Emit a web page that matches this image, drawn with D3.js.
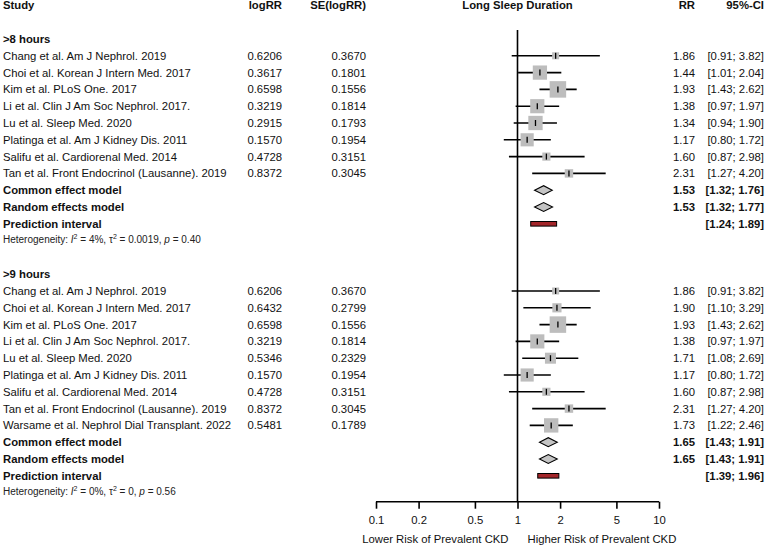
<!DOCTYPE html>
<html><head><meta charset="utf-8">
<script src="https://cdn.jsdelivr.net/npm/d3@7"></script>
<style>
body{margin:0;background:#fff;}
svg{display:block;font-family:"Liberation Sans",Arial,Helvetica,sans-serif;}
</style></head>
<body>
<svg id="chart" width="766" height="547"></svg>
<script>
// ---------- DATA ----------
const group8Studies = ["Chang et al. Am J Nephrol. 2019","Choi et al. Korean J Intern Med. 2017","Kim et al. PLoS One. 2017","Li et al. Clin J Am Soc Nephrol. 2017.","Lu et al. Sleep Med. 2020","Platinga et al. Am J Kidney Dis. 2011","Salifu et al. Cardiorenal Med. 2014","Tan et al. Front Endocrinol (Lausanne). 2019"];
const group8LogRR = ["0.6206","0.3617","0.6598","0.3219","0.2915","0.1570","0.4728","0.8372"];
const group8SE = ["0.3670","0.1801","0.1556","0.1814","0.1793","0.1954","0.3151","0.3045"];
const group8RR = [1.86,1.44,1.93,1.38,1.34,1.17,1.60,2.31];
const group8Lo = [0.91,1.01,1.43,0.97,0.94,0.80,0.87,1.27];
const group8Hi = [3.82,2.04,2.62,1.97,1.90,1.72,2.98,4.20];
const group8Common = [1.53,1.32,1.76];
const group8Random = [1.53,1.32,1.77];
const group8Pred = [1.24,1.89];
const group8Het = {I2:"4%", tau2:"0.0019", p:"0.40"};

const group9Studies = ["Chang et al. Am J Nephrol. 2019","Choi et al. Korean J Intern Med. 2017","Kim et al. PLoS One. 2017","Li et al. Clin J Am Soc Nephrol. 2017.","Lu et al. Sleep Med. 2020","Platinga et al. Am J Kidney Dis. 2011","Salifu et al. Cardiorenal Med. 2014","Tan et al. Front Endocrinol (Lausanne). 2019","Warsame et al. Nephrol Dial Transplant. 2022"];
const group9LogRR = ["0.6206","0.6432","0.6598","0.3219","0.5346","0.1570","0.4728","0.8372","0.5481"];
const group9SE = ["0.3670","0.2799","0.1556","0.1814","0.2329","0.1954","0.3151","0.3045","0.1789"];
const group9RR = [1.86,1.90,1.93,1.38,1.71,1.17,1.60,2.31,1.73];
const group9Lo = [0.91,1.10,1.43,0.97,1.08,0.80,0.87,1.27,1.22];
const group9Hi = [3.82,3.29,2.62,1.97,2.69,1.72,2.98,4.20,2.46];
const group9Common = [1.65,1.43,1.91];
const group9Random = [1.65,1.43,1.91];
const group9Pred = [1.39,1.96];
const group9Het = {I2:"0%", tau2:"0", p:"0.56"};

const axisTicks = [0.1,0.2,0.5,1,2,5,10];
const headers = ["Study","logRR","SE(logRR)","Long Sleep Duration","RR","95%-CI"];
const groupLabels = [">8 hours",">9 hours"];
const leftLabel = "Lower Risk of Prevalent CKD";
const rightLabel = "Higher Risk of Prevalent CKD";

// ---------- LAYOUT ----------
const svg = d3.select("#chart");
const FS = 11.3;
const x = d3.scaleLog().domain([0.1,10]).range([376,659]);
const y = d3.scaleLinear().domain([0,29]).range([5.4,5.4+29*16.8]);
const colLog = 282, colSE = 366, colRR = 695, colCI = 764;
const boxFill = "#bdbdbd", diaFill = "#c4c4c4", predFill = "#a3262a";

const allSE = group8SE.concat(group9SE).map(Number);
const wMax = d3.max(allSE, s => 1/(s*s));
const side = d3.scaleSqrt().domain([0,wMax]).range([0,16.5]);

const fmt2 = d3.format(".2f");
function txt(xp, row, s, opts={}) {
  return svg.append("text").attr("x", xp).attr("y", y(row)).attr("dy","0.35em")
    .attr("font-size", opts.size || FS)
    .attr("font-weight", opts.bold ? "bold" : "normal")
    .attr("text-anchor", opts.anchor || "start")
    .attr("fill","#111").text(s);
}

// headers
txt(3,0,headers[0],{bold:true});
txt(colLog,0,headers[1],{bold:true,anchor:"end"});
txt(colSE,0,headers[2],{bold:true,anchor:"end"});
txt(x(1),0,headers[3],{bold:true,anchor:"middle"});
txt(colRR,0,headers[4],{bold:true,anchor:"end"});
txt(colCI,0,headers[5],{bold:true,anchor:"end"});

// reference line at 1
const axisY = 501.7;
svg.append("line").attr("x1",x(1)).attr("x2",x(1)).attr("y1",30).attr("y2",axisY)
  .attr("stroke","#000").attr("stroke-width",1.6);

function ciText(lo,hi){ return "[" + fmt2(lo) + "; " + fmt2(hi) + "]"; }

function drawGroup(startRow, label, studies, logs, ses, rr, lo, hi, common, random, pred, het) {
  txt(3,startRow,label,{bold:true});
  studies.forEach((s,i) => {
    const r = startRow+1+i, yy = y(r);
    txt(3,r,s);
    txt(colLog,r,logs[i],{anchor:"end"});
    txt(colSE,r,ses[i],{anchor:"end"});
    txt(colRR,r,fmt2(rr[i]),{anchor:"end"});
    txt(colCI,r,ciText(lo[i],hi[i]),{anchor:"end"});
    svg.append("line").attr("x1",x(lo[i])).attr("x2",x(hi[i])).attr("y1",yy).attr("y2",yy)
      .attr("stroke","#000").attr("stroke-width",1.6);
    const w = 1/(+ses[i] * +ses[i]); const sd = side(w);
    svg.append("rect").attr("x",x(rr[i])-sd/2).attr("y",yy-sd/2).attr("width",sd).attr("height",sd)
      .attr("fill",boxFill);
    svg.append("line").attr("x1",x(rr[i])).attr("x2",x(rr[i])).attr("y1",yy-3).attr("y2",yy+3)
      .attr("stroke","#000").attr("stroke-width",1.3);
  });
  const rc = startRow+studies.length+1;
  const models = [["Common effect model",common],["Random effects model",random]];
  models.forEach((m,j) => {
    const r = rc+j, yy = y(r), v = m[1];
    txt(3,r,m[0],{bold:true});
    txt(colRR,r,fmt2(v[0]),{bold:true,anchor:"end"});
    txt(colCI,r,ciText(v[1],v[2]),{bold:true,anchor:"end"});
    const h = 4.5;
    svg.append("path").attr("d",`M${x(v[1])},${yy} L${x(v[0])},${yy-h} L${x(v[2])},${yy} L${x(v[0])},${yy+h} Z`)
      .attr("fill",diaFill).attr("stroke","#000").attr("stroke-width",1.1);
  });
  const rp = rc+2, yp = y(rp);
  txt(3,rp,"Prediction interval",{bold:true});
  txt(colCI,rp,ciText(pred[0],pred[1]),{bold:true,anchor:"end"});
  svg.append("rect").attr("x",x(pred[0])).attr("y",yp-2.3).attr("width",x(pred[1])-x(pred[0])).attr("height",4.6)
    .attr("fill",predFill).attr("stroke","#000").attr("stroke-width",1);
  // heterogeneity
  const rh = rc+3;
  const t = svg.append("text").attr("x",3).attr("y",y(rh)-0.8).attr("dy","0.35em").attr("font-size",10).attr("fill","#222");
  t.append("tspan").text("Heterogeneity: ");
  t.append("tspan").attr("font-style","italic").text("I");
  t.append("tspan").attr("font-size",7).attr("dy",-4).text("2");
  t.append("tspan").attr("dy",4).text(" = " + het.I2 + ", τ");
  t.append("tspan").attr("font-size",7).attr("dy",-4).text("2");
  t.append("tspan").attr("dy",4).text(" = " + het.tau2 + ", ");
  t.append("tspan").attr("font-style","italic").text("p");
  t.append("tspan").text(" = " + het.p);
}

drawGroup(2, groupLabels[0], group8Studies, group8LogRR, group8SE, group8RR, group8Lo, group8Hi, group8Common, group8Random, group8Pred, group8Het);
drawGroup(16, groupLabels[1], group9Studies, group9LogRR, group9SE, group9RR, group9Lo, group9Hi, group9Common, group9Random, group9Pred, group9Het);

// axis
const axis = d3.axisBottom(x).tickValues(axisTicks).tickSize(7).tickPadding(7).tickFormat(d => String(d));
const g = svg.append("g").attr("transform",`translate(0,${axisY})`).call(axis);
g.select(".domain").attr("stroke","#000").attr("stroke-width",1.6).attr("d",`M${x(0.1)},0H${x(10)}`);
g.selectAll(".tick line").attr("stroke","#000").attr("stroke-width",1.6);
g.selectAll(".tick text").attr("font-size",FS).attr("font-family","Liberation Sans, Arial, sans-serif").attr("fill","#111");

svg.append("text").attr("x",x(1)-9).attr("y",539).attr("dy","0.35em").attr("font-size",FS).attr("text-anchor","end").attr("fill","#111").text(leftLabel);
svg.append("text").attr("x",x(1)+10).attr("y",539).attr("dy","0.35em").attr("font-size",FS).attr("text-anchor","start").attr("fill","#111").text(rightLabel);
</script>
</body></html>
